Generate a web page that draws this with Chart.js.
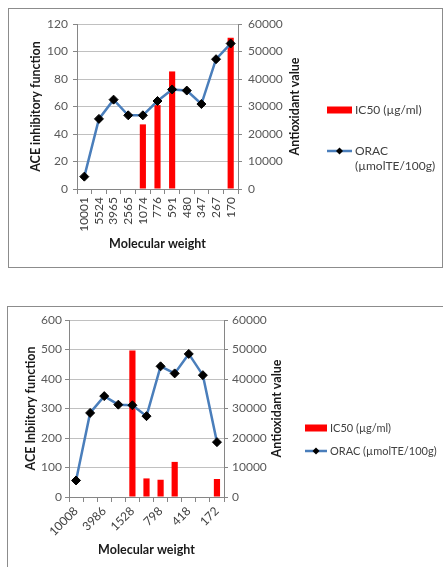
<!DOCTYPE html>
<html><head><meta charset="utf-8">
<script src="https://cdn.jsdelivr.net/npm/chart.js@4"></script>
<style>
html,body{margin:0;padding:0;background:#fff;width:443px;height:567px;overflow:hidden;position:relative;}
.frame{position:absolute;border:1px solid #8c8c8c;}
#f1{left:8px;top:8px;width:433px;height:258px;}
#f2{left:7px;top:306px;width:700px;height:400px;}
.wrap{position:absolute;}
#w1{left:8px;top:8px;width:433px;height:259px;}
#w2{left:7px;top:306px;width:436px;height:261px;}
</style></head>
<body>
<div class="frame" id="f1"></div>
<div class="frame" id="f2"></div>
<div class="wrap" id="w1"><canvas id="c1"></canvas></div>
<div class="wrap" id="w2"><canvas id="c2"></canvas></div>
<script>
// ---- data ----
const weights1 = ['10001','5524','3965','2565','1074','776','591','480','347','267','170'];
const ic50_1 = [null,null,null,null,47,61,85.5,null,null,null,110];
const orac1 = [4500,25500,32500,26800,26800,32000,36200,35800,30900,47200,52900];

const weights2 = ['10008','','3986','','1528','','798','','418','','172'];
const ic50_2 = [null,null,null,null,497,63,58.5,119,null,null,61];
const orac2 = [5600,28500,34200,31300,31100,27400,44300,41900,48500,41300,18600];

const leftTicks1 = {min:0,max:120,step:20};
const leftTicks2 = {min:0,max:600,step:100};
const rightTicks = {min:0,max:60000,step:10000};

const ic50Label = 'IC50 (µg/ml)';
const oracLabel = 'ORAC (µmolTE/100g)';
const rightTitle = 'Antioxidant value';

const FONT = 'Lato, "Open Sans", sans-serif';
Chart.defaults.font.family = FONT;
Chart.defaults.font.size = 12;
Chart.defaults.color = '#595959';

const BLUE = '#4a7ebb', RED = '#ff0000', AXIS = '#868686', GRID = '#c0c0c0';

const legendPlugin = {
  id: 'customLegend',
  afterDraw(chart, args, o) {
    const ctx = chart.ctx;
    const ds = chart.data.datasets;
    ctx.save();
    ctx.font = o.size + 'px ' + FONT;
    ctx.textBaseline = 'middle';
    ctx.textAlign = 'left';
    const bar = ds.find(d => d.type === 'bar');
    ctx.fillStyle = bar.backgroundColor;
    ctx.fillRect(o.x, o.y1 - 3.5, o.w, 7);
    ctx.fillStyle = '#404040';
    ctx.fillText(bar.label, o.x + o.w + 3, o.y1);
    const ln = ds.find(d => d.type === 'line');
    ctx.strokeStyle = ln.borderColor;
    ctx.lineWidth = 2.5;
    ctx.beginPath(); ctx.moveTo(o.x, o.y2); ctx.lineTo(o.x + o.w, o.y2); ctx.stroke();
    const cx = o.x + o.w / 2, r = 3.5;
    ctx.fillStyle = '#000';
    ctx.beginPath(); ctx.moveTo(cx, o.y2 - r); ctx.lineTo(cx + r, o.y2); ctx.lineTo(cx, o.y2 + r); ctx.lineTo(cx - r, o.y2); ctx.closePath(); ctx.fill();
    ctx.fillStyle = '#404040';
    const lines = o.wrap ? ln.label.split(' ') : [ln.label];
    lines.forEach((t, i) => ctx.fillText(t, o.x + o.w + 3, o.y2 + i * 15));
    // right axis title, reading bottom-to-top
    const s = chart.scales.y1;
    ctx.save();
    ctx.translate(s.right - o.rtOff, (chart.chartArea.top + chart.chartArea.bottom) / 2);
    ctx.rotate(-Math.PI / 2);
    ctx.textAlign = 'center';
    ctx.fillStyle = '#1a1a1a';
    ctx.font = 'bold 12.5px ' + FONT;
    ctx.fillText(rightTitle, 0, 0);
    ctx.restore();
    ctx.restore();
  }
};

function makeChart(id, labels, bars, line, L, g) {
  return new Chart(document.getElementById(id), {
    data: {
      labels: labels,
      datasets: [
        {type:'line', label: oracLabel, data: line, yAxisID:'y1', order:0,
         borderColor: BLUE, borderWidth: 2.5, pointStyle:'rectRot', pointRadius:4.5,
         pointBackgroundColor:'#000', pointBorderColor:'#000', pointBorderWidth:1, tension:0},
        {type:'bar', label: ic50Label, data: bars, yAxisID:'y', order:1,
         backgroundColor: RED, barPercentage: g.barPct, categoryPercentage: 1}
      ]
    },
    options: {
      responsive: true, maintainAspectRatio: false, animation: false,
      layout: {padding: {left:0, top:g.top, right:g.right, bottom:0}},
      plugins: {legend:{display:false}, tooltip:{enabled:false}, customLegend: g.legend},
      scales: {
        x: {
          type:'category', offset:true,
          grid: {display:true, drawOnChartArea:false, offset:true, tickLength:5, color:AXIS},
          border: {color:AXIS},
          ticks: {autoSkip:false, minRotation:g.rot, maxRotation:g.rot, padding:g.xpad, color:'#404040', font:{size:12}},
          title: {display:true, text:'Molecular weight', color:'#1a1a1a', font:{size:12.5, weight:'bold'}, padding:{top:0,bottom:g.xtitlePad}},
          afterFit: s => { s.height = g.xh; }
        },
        y: {
          position:'left', min:L.min, max:L.max,
          ticks: {stepSize:L.step, padding:g.lpad, color:'#595959'},
          grid: {color:GRID, tickLength:4, tickColor:AXIS},
          border: {color:AXIS},
          title: {display:true, text:g.ltitle, color:'#1a1a1a', font:{size:12.5, weight:'bold'}, padding:{top:g.ltitlePad, bottom:0}},
          afterFit: s => { s.width = g.lw; }
        },
        y1: {
          position:'right', min:rightTicks.min, max:rightTicks.max,
          ticks: {stepSize:rightTicks.step, padding:g.rpad, color:'#595959', callback: v => String(v)},
          grid: {drawOnChartArea:false, tickLength:4, color:AXIS},
          border: {color:AXIS},
          afterFit: s => { s.width = 70; }
        }
      }
    },
    plugins: [legendPlugin]
  });
}

makeChart('c1', weights1, ic50_1, orac1, leftTicks1, {
  top:16, right:133, rot:90, xpad:3, xh:78, xtitlePad:16, lw:69, lpad:5, ltitlePad:20, ltitle:'ACE inhibitory function',
  rpad:6, barPct:0.42,
  legend:{x:319, w:25, y1:102, y2:143, wrap:true, size:12, rtOff:13}
});
makeChart('c2', weights2, ic50_2, orac2, leftTicks2, {
  top:14, right:149, rot:45, xpad:2, xh:70, xtitlePad:10, lw:62, lpad:3, ltitlePad:16, ltitle:'ACE Inbiitory function',
  rpad:4, barPct:0.44,
  legend:{x:298, w:22, y1:122, y2:145, wrap:false, size:11, rtOff:17}
});
</script>
</body></html>
